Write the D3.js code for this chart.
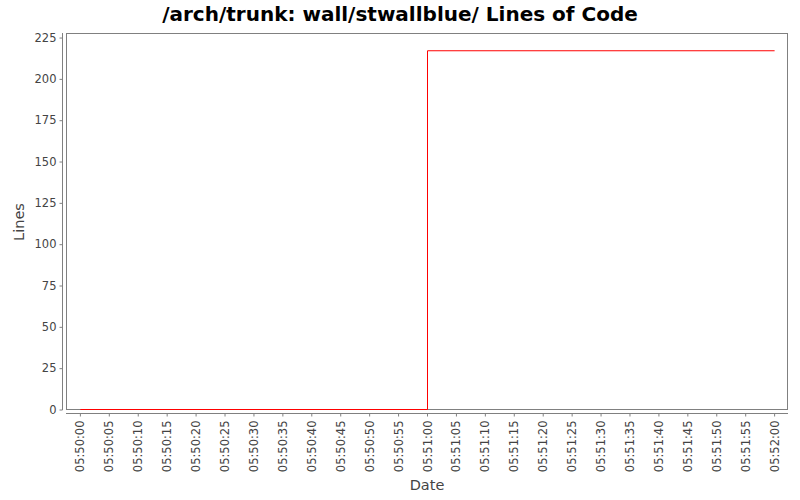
<!DOCTYPE html>
<html><head><meta charset="utf-8">
<script src="https://cdn.jsdelivr.net/npm/d3@7"></script>
<style>body{margin:0;background:#fff}svg{display:block}text{font-family:"DejaVu Sans",sans-serif}</style>
</head><body><svg id="c" width="800" height="500"></svg>
<script>
const titleText = "/arch/trunk: wall/stwallblue/ Lines of Code";
const dates = ["05:50:00", "05:51:00", "05:52:00"];
const lines = [0, 217, 217];
const tickLabels = ["05:50:00","05:50:05","05:50:10","05:50:15","05:50:20","05:50:25","05:50:30","05:50:35","05:50:40","05:50:45","05:50:50","05:50:55","05:51:00","05:51:05","05:51:10","05:51:15","05:51:20","05:51:25","05:51:30","05:51:35","05:51:40","05:51:45","05:51:50","05:51:55","05:52:00"];
const yTicks = [0,25,50,75,100,125,150,175,200,225];

const parse = d3.timeParse("%H:%M:%S");
const data = dates.map((d,i)=>({t:parse(d), v:lines[i]}));
const svg = d3.select("#c");
const L=66, R=788, T=33, B=409.5;
const t0 = parse(tickLabels[0]), t1 = parse(tickLabels[tickLabels.length-1]);
const span = t1 - t0, pad = span*0.02;
const x = d3.scaleTime().domain([new Date(+t0-pad), new Date(+t1+pad)]).range([L,R]);
const y = d3.scaleLinear().domain([0, 217*1.0495]).range([409.5,T]);

svg.append("text").attr("x",400).attr("y",21).attr("text-anchor","middle")
  .attr("font-size",20).attr("font-weight","bold").attr("fill","#000").text(titleText);

// plot border
svg.append("rect").attr("x",L+0.5).attr("y",T+0.5).attr("width",R-L-1).attr("height",B-T-0.5)
  .attr("fill","#fff").attr("stroke","#808080").attr("stroke-width",1);

// y axis
const ya = svg.append("g").attr("transform","translate(62.5,0)")
  .call(d3.axisLeft(y).tickValues(yTicks).tickSize(3).tickPadding(3).tickFormat(d3.format("d")));
ya.select(".domain").attr("stroke","#808080").attr("d",`M0,${T}V${B+0.5}`);
ya.selectAll(".tick line").attr("stroke","#808080");
ya.selectAll("text").attr("font-size",11.5).attr("fill","#444").style("font-family","DejaVu Sans");

// x axis
const xa = svg.append("g").attr("transform","translate(0,413.5)")
  .call(d3.axisBottom(x).tickValues(tickLabels.map(parse)).tickSize(3).tickFormat(d3.timeFormat("%H:%M:%S")));
xa.select(".domain").attr("stroke","#808080").attr("d",`M${L},0H${R}`);
xa.selectAll(".tick line").attr("stroke","#808080");
xa.selectAll("text").attr("font-size",11.5).attr("fill","#444").style("font-family","DejaVu Sans")
  .attr("transform","rotate(-90)").attr("text-anchor","end").attr("x",-7).attr("y",0).attr("dy","0.35em");

// line
svg.append("path").datum(data)
  .attr("d", d3.line().x(d=>x(d.t)).y(d=>y(d.v)).curve(d3.curveStepAfter))
  .attr("fill","none").attr("stroke","#ff0000").attr("stroke-width",1).attr("transform","translate(0.5,0)");

svg.append("text").attr("x",427).attr("y",490).attr("text-anchor","middle")
  .attr("font-size",14.5).attr("fill","#444").text("Date");
svg.append("text").attr("transform","translate(24,222) rotate(-90)").attr("text-anchor","middle")
  .attr("font-size",14.5).attr("fill","#444").text("Lines");
</script></body></html>
